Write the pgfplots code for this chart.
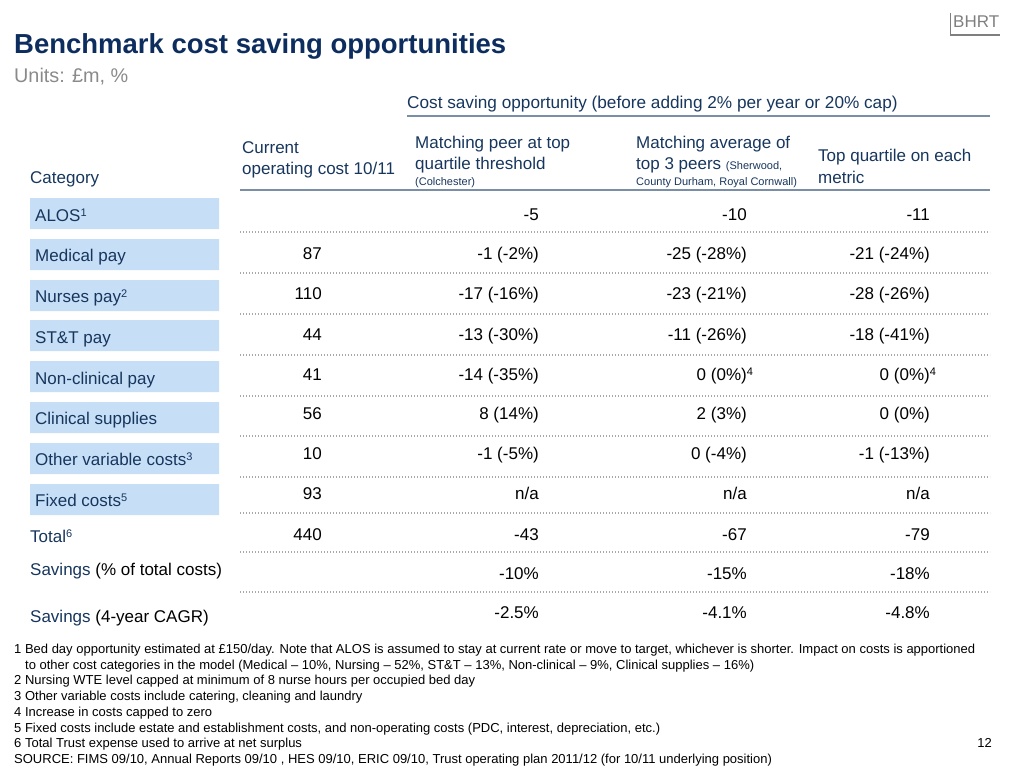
\documentclass[border=0pt]{standalone}
\usepackage{pgfplots}
\pgfplotsset{compat=1.18}
\usepackage{fontspec}
\setmainfont{Liberation Sans}
\definecolor{navy}{HTML}{17365D}
\definecolor{titlenavy}{HTML}{0D2D5E}
\definecolor{boxblue}{HTML}{C6DEF6}
\definecolor{slate}{HTML}{7A8EA6}
\definecolor{dotgray}{HTML}{A8A8A8}
\definecolor{unitgray}{HTML}{8A8A8A}
\definecolor{logogray}{HTML}{7F7F7F}
\newcommand{\fs}[1]{\fontsize{#1}{#1}\selectfont}
\newcommand{\sups}[1]{\raisebox{4.5pt}{\fs{11}#1}}
\pgfplotsset{
  txt/.style={only marks, mark=*, mark size=0pt, mark options={draw=none,fill=none},
    nodes near coords, point meta=explicit symbolic,
    every node near coord/.append style={anchor=base east, inner sep=0pt, text=black, font=\fs{17}}},
  txtl/.style={txt, every node near coord/.append style={anchor=base west, text=navy}},
}
\begin{document}
\begin{tikzpicture}
\begin{axis}[
  scale only axis, width=1024pt, height=768pt,
  xmin=0, xmax=1024, ymin=0, ymax=768, y dir=reverse,
  hide axis, clip=false, unbounded coords=jump,
]
% category boxes
\addplot[fill=boxblue, draw=none] coordinates {
(30,198)(219,198)(219,229)(30,229)(nan,nan)
(30,239)(219,239)(219,270)(30,270)(nan,nan)
(30,280)(219,280)(219,311)(30,311)(nan,nan)
(30,320)(219,320)(219,351)(30,351)(nan,nan)
(30,361)(219,361)(219,392)(30,392)(nan,nan)
(30,402)(219,402)(219,433)(30,433)(nan,nan)
(30,443)(219,443)(219,474)(30,474)(nan,nan)
(30,484)(219,484)(219,515)(30,515)
};
% dotted row separators
\addplot[dotgray, line width=1.1pt, dash pattern=on 1.1pt off 1.9pt] coordinates {
(240,232)(990,232)(nan,nan)
(240,273)(990,273)(nan,nan)
(240,314)(990,314)(nan,nan)
(240,355)(990,355)(nan,nan)
(240,396)(990,396)(nan,nan)
(240,436)(990,436)(nan,nan)
(240,477)(990,477)(nan,nan)
(240,513)(990,513)(nan,nan)
(240,552)(990,552)(nan,nan)
(240,592)(990,592)
};
% header rules
\addplot[slate, line width=2.2pt] coordinates {(407,116)(990,116)};
\addplot[slate, line width=2.6pt] coordinates {(240,190)(990,190)};
% logo rule
\addplot[logogray, line width=1.6pt] coordinates {(950.5,13)(950.5,35)(1000,35)};

% category labels
\addplot[txtl] coordinates {
(35,221) [{ALOS\sups{1}}]
(35,261) [{Medical pay}]
(35,302) [{Nurses pay\sups{2}}]
(35,343) [{ST\&T pay}]
(35,384) [{Non-clinical pay}]
(35,424) [{Clinical supplies}]
(35,465) [{Other variable costs\sups{3}}]
(35,506) [{Fixed costs\sups{5}}]
(30,542) [{Total\sups{6}}]
(30,575) [{Savings \textcolor{black}{(\% of total costs)}}]
(30,622) [{Savings \textcolor{black}{(4-year CAGR)}}]
};
% current operating cost 10/11
\addplot[txt] coordinates {
(322,259) [87]
(322,299) [110]
(322,340) [44]
(322,380) [41]
(322,419) [56]
(322,459) [10]
(322,499) [93]
(322,540) [440]
};
% matching peer at top quartile threshold
\addplot[txt] coordinates {
(539,220) [-5]
(539,259) [{-1 (-2\%)}]
(539,299) [{-17 (-16\%)}]
(539,340) [{-13 (-30\%)}]
(539,380) [{-14 (-35\%)}]
(539,419) [{8 (14\%)}]
(539,459) [{-1 (-5\%)}]
(539,499) [{n/a}]
(539,540) [-43]
(539,579) [{-10\%}]
(539,618) [{-2.5\%}]
};
% matching average of top 3 peers
\addplot[txt] coordinates {
(747,220) [-10]
(747,259) [{-25 (-28\%)}]
(747,299) [{-23 (-21\%)}]
(747,340) [{-11 (-26\%)}]
(747,380) [{0 (0\%)\rlap{\sups{4}}}]
(747,419) [{2 (3\%)}]
(747,459) [{0 (-4\%)}]
(747,499) [{n/a}]
(747,540) [-67]
(747,579) [{-15\%}]
(747,618) [{-4.1\%}]
};
% top quartile on each metric
\addplot[txt] coordinates {
(930,220) [-11]
(930,259) [{-21 (-24\%)}]
(930,299) [{-28 (-26\%)}]
(930,340) [{-18 (-41\%)}]
(930,380) [{0 (0\%)\rlap{\sups{4}}}]
(930,419) [{0 (0\%)}]
(930,459) [{-1 (-13\%)}]
(930,499) [{n/a}]
(930,540) [-79]
(930,579) [{-18\%}]
(930,618) [{-4.8\%}]
};

% titles and headers
\begin{scope}[every node/.style={inner sep=0pt, anchor=base west}]
\node[text=titlenavy, font=\fs{27.5}\bfseries] at (axis cs:14,53) {Benchmark cost saving opportunities};
\node[text=unitgray, font=\fs{19.8}] at (axis cs:14,82) {Units: £m, \%};
\node[text=logogray, font=\fs{17}] at (axis cs:953,28) {BHRT};
\node[text=navy, font=\fs{17.2}] at (axis cs:407,108) {Cost saving opportunity (before adding 2\% per year or 20\% cap)};
\node[text=navy, font=\fs{17}] at (axis cs:30,183) {Category};
\node[text=navy, font=\fs{17}] at (axis cs:242,153) {Current};
\node[text=navy, font=\fs{17}] at (axis cs:242,174) {operating cost 10/11};
\node[text=navy, font=\fs{17}] at (axis cs:415,148) {Matching peer at top};
\node[text=navy, font=\fs{17}] at (axis cs:415,169) {quartile threshold};
\node[text=navy, font=\fs{11}] at (axis cs:415,185) {(Colchester)};
\node[text=navy, font=\fs{17}] at (axis cs:636,148) {Matching average of};
\node[text=navy, font=\fs{17}] at (axis cs:636,169) {top 3 peers {\fs{11}(Sherwood,}};
\node[text=navy, font=\fs{11}] at (axis cs:636,185) {County Durham, Royal Cornwall)};
\node[text=navy, font=\fs{17}] at (axis cs:818,161) {Top quartile on each};
\node[text=navy, font=\fs{17}] at (axis cs:818,183) {metric};
% footnotes
\begin{scope}[every node/.append style={font=\fs{13}, text=black}]
\node at (axis cs:14,653) {1 Bed day opportunity estimated at £150/day. Note that ALOS is assumed to stay at current rate or move to target, whichever is shorter. Impact on costs is apportioned};
\node at (axis cs:25,669) {to other cost categories in the model (Medical – 10\%, Nursing – 52\%, ST\&T – 13\%, Non-clinical – 9\%, Clinical supplies – 16\%)};
\node at (axis cs:14,684) {2 Nursing WTE level capped at minimum of 8 nurse hours per occupied bed day};
\node at (axis cs:14,700) {3 Other variable costs include catering, cleaning and laundry};
\node at (axis cs:14,716) {4 Increase in costs capped to zero};
\node at (axis cs:14,732) {5 Fixed costs include estate and establishment costs, and non-operating costs (PDC, interest, depreciation, etc.)};
\node at (axis cs:14,747) {6 Total Trust expense used to arrive at net surplus};
\node at (axis cs:14,763) {SOURCE: FIMS 09/10, Annual Reports 09/10 , HES 09/10, ERIC 09/10, Trust operating plan 2011/12 (for 10/11 underlying position)};
\node[anchor=base east] at (axis cs:992,747) {12};
\end{scope}
\end{scope}
\end{axis}
\pgfresetboundingbox
\path (current axis.south west) rectangle (current axis.north east);
\end{tikzpicture}
\end{document}
